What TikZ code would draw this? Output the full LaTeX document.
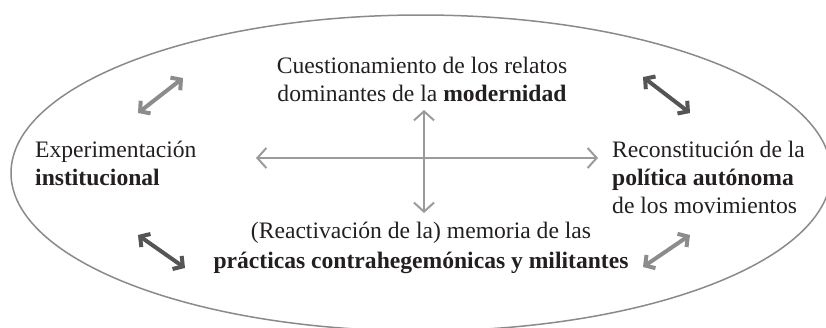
\documentclass[tikz,border=0pt]{standalone}
\usepackage{fontspec}
\setmainfont{Liberation Serif}
\usetikzlibrary{arrows.meta}
\definecolor{inkcol}{HTML}{231F20}
\definecolor{ringcol}{HTML}{8A8A8A}
\definecolor{crosscol}{HTML}{9B9B9B}
\definecolor{palecol}{HTML}{8C8C8C}
\definecolor{darkcol}{HTML}{555555}

\begin{document}
\begin{tikzpicture}[x=1pt,y=-1pt,
 lbl/.style={inner sep=0pt,text=inkcol,font=\fontsize{23.6}{28}\selectfont},
 crossarr/.style={draw=crosscol,line width=2pt,{Straight Barb[length=9pt,width=20pt]}-{Straight Barb[length=9pt,width=20pt]}},
 pairarr/.style={line width=4pt,{Straight Barb[length=7pt,width=16pt]}-{Straight Barb[length=7pt,width=16pt]}}]
 \useasboundingbox (0,0) rectangle (826,327);
 \draw[ringcol,line width=1.5pt] (421,173) ellipse [x radius=410,y radius=158];
 % four texts
 \node[lbl,anchor=north,align=center] (modern) at (422,53.4) {\strut Cuestionamiento de los relatos\\\strut dominantes de la \textbf{modernidad}};
 \node[lbl,anchor=north west,align=left] (instit) at (35,137.4) {\strut Experimentación\\\strut\textbf{institucional}};
 \node[lbl,anchor=north west,align=left] (autonom) at (612,137.4) {\strut Reconstitución de la\\\strut\textbf{política autónoma}\\\strut de los movimientos};
 \node[lbl,anchor=north,align=center] (memoria) at (421,218.4) {\strut(Reactivación de la) memoria de las\\[2pt]\strut\textbf{prácticas contrahegemónicas y militantes}};
 % cross
 \coordinate (vup) at (424,110);
 \coordinate (vdown) at (424,213);
 \coordinate (hleft) at (256,158);
 \coordinate (hright) at (598,158);
 \draw[crossarr] (vup) -- (vdown);
 \draw[crossarr] (hleft) -- (hright);
 % corner arrows
 \coordinate (tla) at (138,113); \coordinate (tlb) at (183,78);
 \coordinate (tra) at (643,77); \coordinate (trb) at (690,113);
 \coordinate (bla) at (138,235); \coordinate (blb) at (185,268);
 \coordinate (bra) at (643,267); \coordinate (brb) at (690,235);
 \draw[pairarr,palecol] (tla) -- (tlb);
 \draw[pairarr,darkcol] (tra) -- (trb);
 \draw[pairarr,darkcol] (bla) -- (blb);
 \draw[pairarr,palecol] (bra) -- (brb);
\end{tikzpicture}
\end{document}
